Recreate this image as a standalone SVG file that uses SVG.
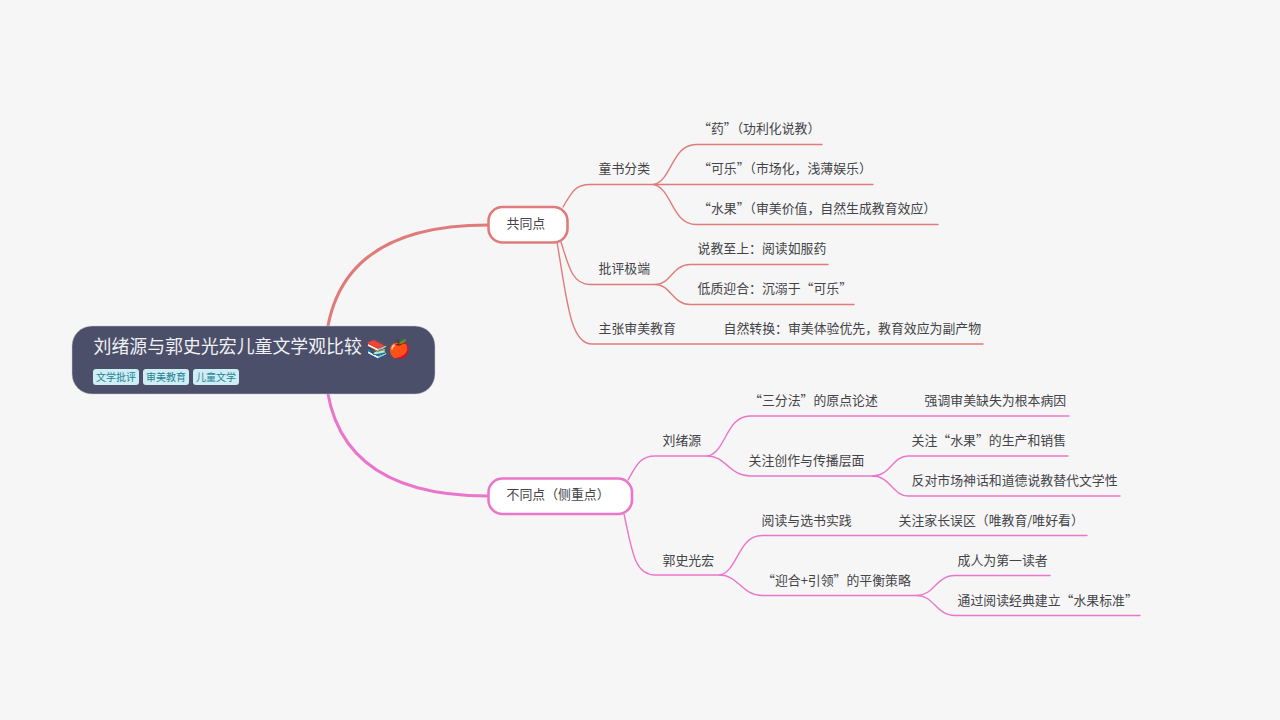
<svg xmlns="http://www.w3.org/2000/svg" width="1280" height="720" viewBox="0 0 1280 720">
<style>
text{font-family:"Noto Sans CJK SC",sans-serif;font-size:12.88px;fill:#444448}
.l{fill:none;stroke-linecap:round}
.r{stroke:#e07b7b}.p{stroke:#ea76cb}
.m{stroke-width:3}.s{stroke-width:1.4}
.n{fill:#fff;stroke-width:2.6}
.tag{fill:#cdeef5}.tt{font-size:10px;fill:#2a7f94;text-anchor:middle}
</style>
<rect width="1280" height="720" fill="#f6f6f6"/>
<g id="connectors">
<path class="l r m" d="M325 360Q325 225 488 225"/>
<path class="l p m" d="M325 360Q325 496 488 496"/>
<path class="l r s" d="M563 207C572 192 575 184.500 590 184.500H654"/>
<path class="l r s" d="M654 184.500C672 180 672 144.500 696 144.500H822"/>
<path class="l r s" d="M654 184.500H873"/>
<path class="l r s" d="M654 184.500C672 189 672 224.500 696 224.500H938"/>
<path class="l r s" d="M561 242C569 268 573 284.500 590 284.500H656"/>
<path class="l r s" d="M656 284.500C670 284.500 673 264.500 690 264.500H828"/>
<path class="l r s" d="M656 284.500C670 284.500 673 304.500 690 304.500H854"/>
<path class="l r s" d="M557 242C567 300 570 344 592 344H983"/>
<path class="l p s" d="M628 480C636 466 640 456 655 456H708"/>
<path class="l p s" d="M708 456C726 452 726 416 750 416H1069"/>
<path class="l p s" d="M708 456C725 456 730 476 750 476H873"/>
<path class="l p s" d="M873 476C890 476 893 456 908 456H1068"/>
<path class="l p s" d="M873 476C890 476 893 496 908 496H1120"/>
<path class="l p s" d="M624 514C632 550 634 575 655 575H720"/>
<path class="l p s" d="M720 575C738 571 738 535.500 762 535.500H1087"/>
<path class="l p s" d="M720 575C738 575 742 595.500 762 595.500H917"/>
<path class="l p s" d="M917 595.500C934 595.500 936 575.500 955 575.500H1050"/>
<path class="l p s" d="M917 595.500C934 595.500 936 615.500 955 615.500H1140"/>
</g>
<g id="root">
<rect x="72" y="326" width="363" height="68" rx="20" fill="#4c4f69" stroke="#c9c8d2" stroke-width="0.5"/>
<text x="93.500" y="353" style="font-size:17.900px;fill:#eff1f5">刘绪源与郭史光宏儿童文学观比较</text>
<text x="366" y="355" style="font-size:18px;fill:#eff1f5;font-family:'Noto Color Emoji','Noto Sans CJK SC',sans-serif">📚</text>
<text x="388" y="355" style="font-size:18px;fill:#eff1f5;font-family:'Noto Color Emoji','Noto Sans CJK SC',sans-serif">🍎</text>
<rect class="tag" x="93" y="369" width="46" height="16" rx="3"/><text class="tt" x="116" y="381">文学批评</text>
<rect class="tag" x="143" y="369" width="46" height="16" rx="3"/><text class="tt" x="166" y="381">审美教育</text>
<rect class="tag" x="193" y="369" width="46" height="16" rx="3"/><text class="tt" x="216" y="381">儿童文学</text>
</g>
<g id="n1"><rect class="n r" x="488.500" y="207" width="79" height="35.500" rx="14"/><text x="506.500" y="227.500">共同点</text></g>
<g id="n2"><rect class="n p" x="488.500" y="478.500" width="143.500" height="35.500" rx="14"/><text x="506.500" y="498.500">不同点（侧重点）</text></g>
<g id="n1-1"><text x="598.500" y="172.500">童书分类</text></g>
<g id="n1-1-1"><text x="698" y="132.500">“药”（功利化说教）</text></g>
<g id="n1-1-2"><text x="698" y="172.500">“可乐”（市场化，浅薄娱乐）</text></g>
<g id="n1-1-3"><text x="698" y="212.500">“水果”（审美价值，自然生成教育效应）</text></g>
<g id="n1-2"><text x="598.500" y="272.500">批评极端</text></g>
<g id="n1-2-1"><text x="697.500" y="252.500">说教至上：阅读如服药</text></g>
<g id="n1-2-2"><text x="697.500" y="292.500">低质迎合：沉溺于“可乐”</text></g>
<g id="n1-3"><text x="598.500" y="332.500">主张审美教育</text></g>
<g id="n1-3-1"><text x="723.500" y="332.500">自然转换：审美体验优先，教育效应为副产物</text></g>
<g id="n2-1"><text x="662.500" y="444.500">刘绪源</text></g>
<g id="n2-1-1"><text x="749" y="404.500">“三分法”的原点论述</text></g>
<g id="n2-1-1-1"><text x="924.500" y="404.500">强调审美缺失为根本病因</text></g>
<g id="n2-1-2"><text x="748.500" y="464.500">关注创作与传播层面</text></g>
<g id="n2-1-2-1"><text x="911.500" y="444.500">关注“水果”的生产和销售</text></g>
<g id="n2-1-2-2"><text x="911.500" y="484.500">反对市场神话和道德说教替代文学性</text></g>
<g id="n2-2"><text x="662.500" y="564.500">郭史光宏</text></g>
<g id="n2-2-1"><text x="761.500" y="524.500">阅读与选书实践</text></g>
<g id="n2-2-1-1"><text x="898.500" y="524.500">关注家长误区（唯教育/唯好看）</text></g>
<g id="n2-2-2"><text x="762" y="584.500">“迎合+引领”的平衡策略</text></g>
<g id="n2-2-2-1"><text x="957.500" y="564.500">成人为第一读者</text></g>
<g id="n2-2-2-2"><text x="957.500" y="604.500">通过阅读经典建立“水果标准”</text></g>
</svg>
